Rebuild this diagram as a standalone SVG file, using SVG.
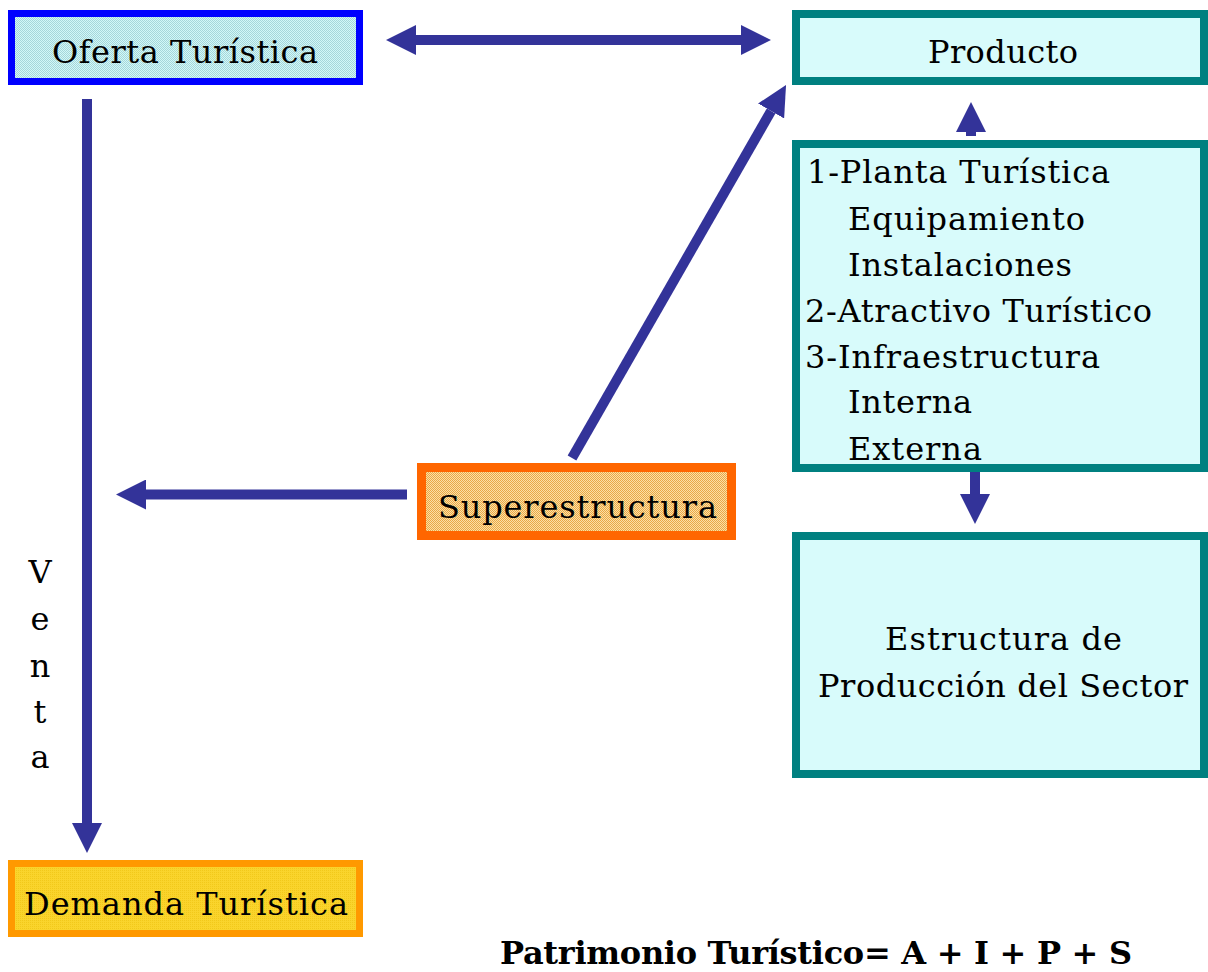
<svg xmlns="http://www.w3.org/2000/svg" width="1208" height="972" viewBox="0 0 1208 972">
  <style>
    .txt { font-family: "DejaVu Serif", "Liberation Serif", serif; font-size: 32px; fill: #000000; }
    .bold { font-family: "DejaVu Serif", "Liberation Serif", serif; font-size: 32px; font-weight: bold; fill: #000000; }
    .conn { stroke: #333399; stroke-width: 10; fill: none; stroke-linecap: butt; }
    .teal { fill: #D8FBFB; stroke: #008080; stroke-width: 8; }
  </style>
  <defs>
    <pattern id="dotCyan" width="2" height="2" patternUnits="userSpaceOnUse">
      <rect width="2" height="2" fill="#D2F8F8"/>
      <rect width="1" height="1" fill="#A6D6DA"/>
      <rect x="1" y="1" width="1" height="1" fill="#A6D6DA"/>
    </pattern>
    <pattern id="dotOrange" width="2" height="2" patternUnits="userSpaceOnUse">
      <rect width="2" height="2" fill="#FDE0A4"/>
      <rect width="1" height="1" fill="#E8A848"/>
      <rect x="1" y="1" width="1" height="1" fill="#E8A848"/>
    </pattern>
    <pattern id="dotYellow" width="2" height="2" patternUnits="userSpaceOnUse">
      <rect width="2" height="2" fill="#FAD42C"/>
      <rect width="1" height="1" fill="#F2C81A"/>
    </pattern>
    <marker id="head" markerUnits="userSpaceOnUse" markerWidth="30" markerHeight="30" viewBox="0 0 30 30" refX="0" refY="15" orient="auto-start-reverse">
      <path d="M0,0 L30,15 L0,30 Z" fill="#333399"/>
    </marker>
  </defs>

  <g id="connectors">
    <line class="conn" x1="416" y1="40" x2="741" y2="40" marker-start="url(#head)" marker-end="url(#head)"/>
    <line class="conn" x1="87" y1="99" x2="87" y2="823" marker-end="url(#head)"/>
    <line class="conn" x1="407" y1="494.5" x2="146" y2="494.5" marker-end="url(#head)"/>
    <line class="conn" x1="572" y1="458" x2="771.1" y2="111" marker-end="url(#head)"/>
    <line class="conn" x1="975" y1="470" x2="975" y2="494" marker-end="url(#head)"/>
    <line class="conn" x1="971" y1="136" x2="971" y2="132" marker-end="url(#head)"/>
  </g>

  <g id="oferta">
    <rect x="11.5" y="13.5" width="348" height="68" fill="url(#dotCyan)" stroke="#0000FF" stroke-width="7"/>
    <text class="txt" x="52" y="63" textLength="266">Oferta Turística</text>
  </g>

  <g id="producto">
    <rect class="teal" x="796" y="14" width="408" height="67"/>
    <text class="txt" x="928" y="63" textLength="150">Producto</text>
  </g>

  <g id="planta">
    <rect class="teal" x="796" y="144" width="408" height="324"/>
    <text class="txt" x="807" y="183" textLength="303">1-Planta Turística</text>
    <text class="txt" x="848" y="230" textLength="237">Equipamiento</text>
    <text class="txt" x="848" y="276" textLength="224">Instalaciones</text>
    <text class="txt" x="805" y="322" textLength="347">2-Atractivo Turístico</text>
    <text class="txt" x="805" y="368" textLength="295">3-Infraestructura</text>
    <text class="txt" x="848" y="413" textLength="124">Interna</text>
    <text class="txt" x="848" y="460" textLength="134">Externa</text>
  </g>

  <g id="estructura">
    <rect class="teal" x="796" y="536" width="408" height="238"/>
    <text class="txt" x="885" y="650" textLength="237">Estructura de</text>
    <text class="txt" x="818" y="697" textLength="370">Producción del Sector</text>
  </g>

  <g id="superestructura">
    <rect x="421.5" y="467.5" width="310" height="68" fill="url(#dotOrange)" stroke="#FF6600" stroke-width="9"/>
    <text class="txt" x="438" y="518" textLength="279">Superestructura</text>
  </g>

  <g id="demanda">
    <rect x="11.5" y="863.5" width="348" height="70" fill="url(#dotYellow)" stroke="#FF9900" stroke-width="7"/>
    <text class="txt" x="24" y="915" textLength="324">Demanda Turística</text>
  </g>

  <g id="venta" text-anchor="middle">
    <text class="txt" x="40" y="583">V</text>
    <text class="txt" x="40" y="630">e</text>
    <text class="txt" x="40" y="677">n</text>
    <text class="txt" x="40" y="723">t</text>
    <text class="txt" x="40" y="768">a</text>
  </g>

  <g id="formula">
    <text class="bold" x="500" y="964" textLength="632">Patrimonio Turístico= A + I + P + S</text>
  </g>
</svg>
